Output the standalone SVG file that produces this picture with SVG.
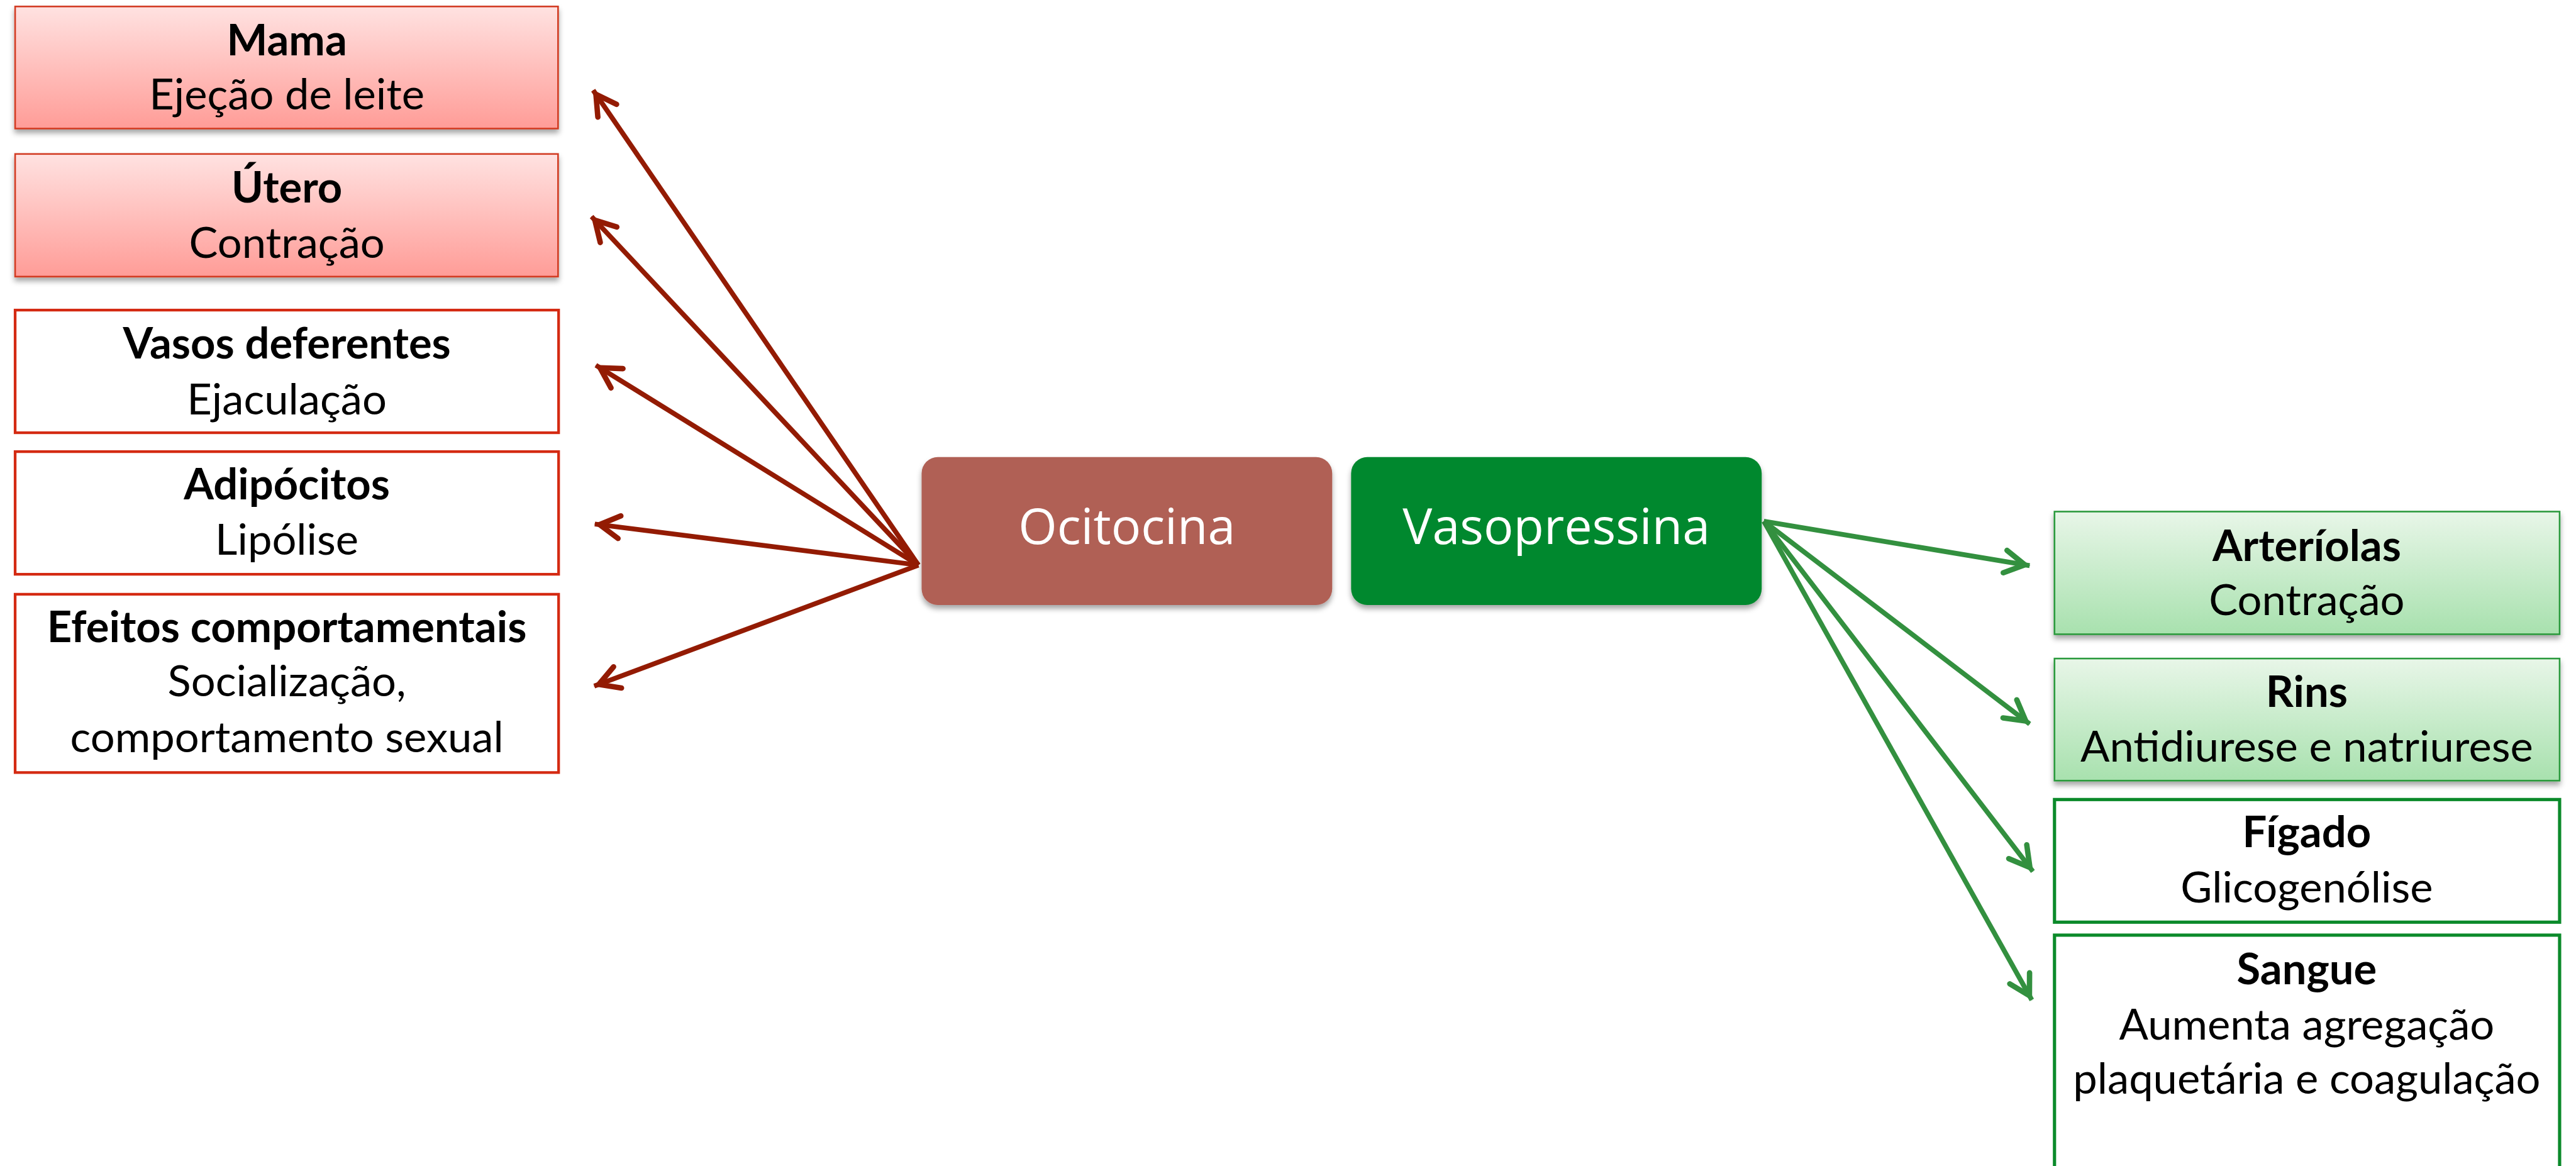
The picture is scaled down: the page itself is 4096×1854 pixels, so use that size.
<svg xmlns="http://www.w3.org/2000/svg" width="4096" height="1854" viewBox="0 0 4096 1854">
<defs>
<linearGradient id="gRed" x1="0" y1="0" x2="0" y2="1"><stop offset="0" stop-color="#FFE2E1"/><stop offset="1" stop-color="#FF9C97"/></linearGradient>
<linearGradient id="gGreen" x1="0" y1="0" x2="0" y2="1"><stop offset="0" stop-color="#E8F6E8"/><stop offset="1" stop-color="#A8E1AE"/></linearGradient>
<filter id="sh" x="-5%" y="-10%" width="110%" height="130%"><feDropShadow dx="0" dy="7" stdDeviation="5" flood-color="#000" flood-opacity="0.35"/></filter>
<marker id="arR" markerUnits="userSpaceOnUse" viewBox="-60 -30 70 60" markerWidth="70" markerHeight="60" refX="0" refY="0" orient="auto"><path d="M-46,-21 L-9,0 L-46,21" fill="none" stroke="#931B03" stroke-width="10" stroke-linecap="round" stroke-linejoin="miter"/></marker>
<marker id="arG" markerUnits="userSpaceOnUse" viewBox="-60 -30 70 60" markerWidth="70" markerHeight="60" refX="0" refY="0" orient="auto"><path d="M-46,-21 L-9,0 L-46,21" fill="none" stroke="#33903F" stroke-width="10" stroke-linecap="round" stroke-linejoin="miter"/></marker>
</defs>
<style>
.t{font-family:Lato,"Liberation Sans",sans-serif;font-size:80px;fill:#000;text-anchor:middle}
.b{font-weight:bold}
.rg{fill:url(#gRed);stroke:#D23A22;stroke-width:3;filter:url(#sh)}
.rw{fill:#fff;stroke:#D42A12;stroke-width:5}
.gg{fill:url(#gGreen);stroke:#2C9A3C;stroke-width:3;filter:url(#sh)}
.gw{fill:#fff;stroke:#0B8A2A;stroke-width:6}
.c{font-family:"Open Sans","DejaVu Sans",sans-serif;font-size:92px;fill:#fff;text-anchor:middle}
.lr{stroke:#931B03;stroke-width:9;fill:none;marker-end:url(#arR)}
.lg{stroke:#33903F;stroke-width:9;fill:none;marker-end:url(#arG)}
</style>
<g transform="scale(0.859)">
<g id="connectors">
<line class="lr" x1="1700" y1="1046" x2="1098" y2="167"/>
<line class="lr" x1="1700" y1="1046" x2="1095" y2="401"/>
<line class="lr" x1="1700" y1="1046" x2="1103" y2="676"/>
<line class="lr" x1="1700" y1="1046" x2="1101" y2="970"/>
<line class="lr" x1="1700" y1="1046" x2="1100" y2="1270"/>
<line class="lg" x1="3265" y1="965" x2="3757" y2="1047"/>
<line class="lg" x1="3265" y1="965" x2="3757" y2="1340"/>
<line class="lg" x1="3265" y1="965" x2="3763" y2="1613"/>
<line class="lg" x1="3265" y1="965" x2="3761" y2="1851"/>
</g>
<g id="mama"><rect class="rg" x="28" y="12" width="1005" height="226"/><text class="t b" x="531" y="102">Mama</text><text class="t" x="531" y="203">Ejeção de leite</text></g>
<g id="utero"><rect class="rg" x="28" y="285" width="1005" height="227"/><text class="t b" x="531" y="375">Útero</text><text class="t" x="531" y="477">Contração</text></g>
<g id="vasos"><rect class="rw" x="28" y="574" width="1006" height="227"/><text class="t b" x="531" y="663">Vasos deferentes</text><text class="t" x="531" y="767">Ejaculação</text></g>
<g id="adipocitos"><rect class="rw" x="28" y="836" width="1006" height="227"/><text class="t b" x="531" y="924">Adipócitos</text><text class="t" x="531" y="1027">Lipólise</text></g>
<g id="efeitos"><rect class="rw" x="28" y="1100" width="1006" height="330"/><text class="t b" x="531" y="1189">Efeitos comportamentais</text><text class="t" x="531" y="1289">Socialização,</text><text class="t" x="531" y="1392">comportamento sexual</text></g>
<g id="ocitocina"><rect x="1706" y="846" width="760" height="274" rx="30" fill="#B06055" filter="url(#sh)"/><text class="c" x="2086" y="1007">Ocitocina</text></g>
<g id="vasopressina"><rect x="2501" y="846" width="760" height="274" rx="30" fill="#02882D" filter="url(#sh)"/><text class="c" x="2881" y="1007">Vasopressina</text></g>
<g id="arteriolas"><rect class="gg" x="3803" y="947" width="935" height="227"/><text class="t b" x="4270" y="1038">Arteríolas</text><text class="t" x="4270" y="1139">Contração</text></g>
<g id="rins"><rect class="gg" x="3803" y="1219" width="935" height="226"/><text class="t b" x="4270" y="1308">Rins</text><text class="t" x="4270" y="1410">Antidiurese e natriurese</text></g>
<g id="figado"><rect class="gw" x="3803" y="1480" width="935" height="227"/><text class="t b" x="4270" y="1568">Fígado</text><text class="t" x="4270" y="1670">Glicogenólise</text></g>
<g id="sangue"><rect class="gw" x="3803" y="1731" width="935" height="480"/><text class="t b" x="4270" y="1822">Sangue</text><text class="t" x="4270" y="1924">Aumenta agregação</text><text class="t" x="4270" y="2025">plaquetária e coagulação</text></g>
</g>
</svg>
